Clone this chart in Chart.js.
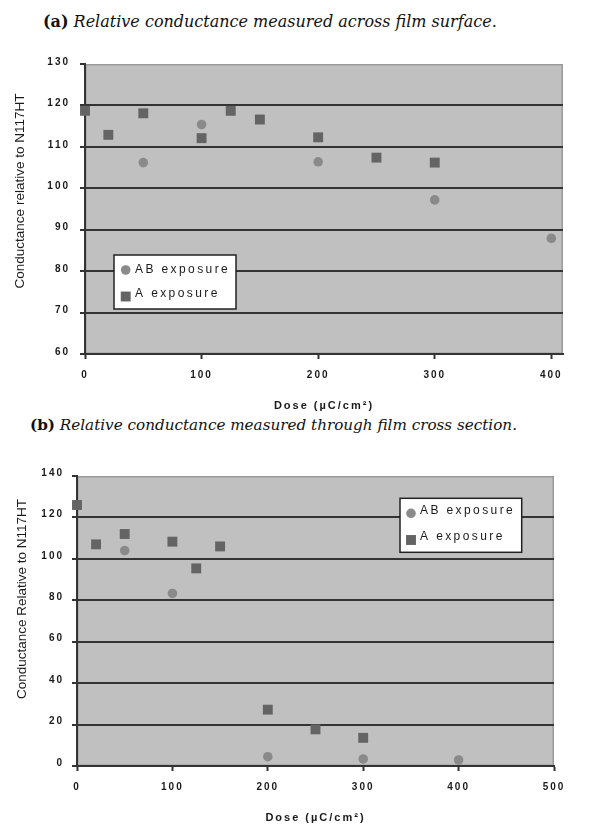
<!DOCTYPE html>
<html><head><meta charset="utf-8">
<script src="https://cdn.jsdelivr.net/npm/chart.js@4.4.1/dist/chart.umd.min.js"></script>
<style>
html,body{margin:0;padding:0;background:#fff;width:616px;height:825px;overflow:hidden;position:relative}
.ttl{position:absolute;font-family:"DejaVu Serif",serif;font-style:italic;white-space:nowrap;color:#111;line-height:20px}
.ttl b{font-style:normal}
.wrap{position:absolute;left:0;width:616px;height:380px}
</style></head><body>
<div class="ttl" id="ta" style="left:43px;top:12px;font-size:16px"><b>(a)</b> Relative conductance measured across film surface.</div>
<div class="ttl" id="tb" style="left:30px;top:415px;font-size:15.2px"><b>(b)</b> Relative conductance measured through film cross section.</div>
<div class="wrap" style="top:40px"><canvas id="ca" width="616" height="380"></canvas></div>
<div class="wrap" style="top:445px"><canvas id="cb" width="616" height="380"></canvas></div>
<script>
// ---------- data ----------
const seriesLabels = ['AB exposure', 'A exposure'];
const xTitle = 'Dose (\u00B5C/cm\u00B2)';
// (a) across film surface
const doseA_AB = [50, 100, 200, 300, 400];
const condA_AB = [106.2, 115.4, 106.4, 97.2, 87.9];
const doseA_A  = [0, 20, 50, 100, 125, 150, 200, 250, 300];
const condA_A  = [118.7, 112.9, 118.1, 112.1, 118.7, 116.6, 112.3, 107.4, 106.2];
const xTicksA  = [0, 100, 200, 300, 400];
const yTicksA  = [60, 70, 80, 90, 100, 110, 120, 130];
// (b) through film cross section
const doseB_AB = [50, 100, 200, 300, 400];
const condB_AB = [104, 83.3, 4.5, 3.4, 2.9];
const doseB_A  = [0, 20, 50, 100, 125, 150, 200, 250, 300];
const condB_A  = [126, 107, 112, 108.3, 95.4, 106, 27.2, 17.7, 13.6];
const xTicksB  = [0, 100, 200, 300, 400, 500];
const yTicksB  = [0, 20, 40, 60, 80, 100, 120, 140];

const FONT = '"Liberation Sans", Arial, sans-serif';
const pts = (xs, ys) => xs.map((x, i) => ({x, y: ys[i]}));

const decor = {
  id: 'decor',
  beforeLayout(chart) { chart.ctx.letterSpacing = '2px'; },
  beforeDraw(chart, args, o) {
    const {ctx, chartArea: a} = chart;
    ctx.save();
    ctx.fillStyle = '#c0c0c0';
    ctx.fillRect(a.left, a.top, a.width, a.height);
    ctx.strokeStyle = '#9a9a9a'; ctx.lineWidth = 1.5;
    ctx.strokeRect(a.left + 0.75, a.top + 0.75, a.width - 1.5, a.height - 1.5);
    ctx.restore();
    ctx.letterSpacing = '2px';
  },
  afterDraw(chart, args, o) {
    const ctx = chart.ctx;
    // y title
    ctx.save();
    ctx.letterSpacing = '0px';
    ctx.translate(o.yTitle.x, o.yTitle.y);
    ctx.rotate(-Math.PI / 2);
    ctx.font = '13.5px ' + FONT;
    ctx.fillStyle = '#1a1a1a'; ctx.textAlign = 'center'; ctx.textBaseline = 'middle';
    ctx.fillText(o.yTitle.text, 0, 0);
    ctx.restore();
    // legend box
    const L = o.legend;
    ctx.save();
    ctx.fillStyle = '#fff';
    ctx.fillRect(L.box[0], L.box[1], L.box[2] - L.box[0], L.box[3] - L.box[1]);
    ctx.strokeStyle = '#222'; ctx.lineWidth = 1.5;
    ctx.strokeRect(L.box[0], L.box[1], L.box[2] - L.box[0], L.box[3] - L.box[1]);
    ctx.font = '12px ' + FONT;
    ctx.letterSpacing = '2.4px';
    ctx.textAlign = 'left'; ctx.textBaseline = 'middle';
    chart.data.datasets.forEach((ds, i) => {
      ctx.fillStyle = ds.backgroundColor;
      Chart.helpers.drawPoint(ctx, {pointStyle: ds.pointStyle, radius: ds.pointRadius, borderWidth: 0, rotation: 0}, L.markerX, L.markerY[i]);
      ctx.fillStyle = '#1a1a1a';
      ctx.fillText(ds.label, L.textX, L.textY[i]);
    });
    ctx.restore();
  }
};

function makeChart(id, cfg) {
  const fixTicks = (vals) => (scale) => { scale.ticks = vals.map(v => ({value: v})); };
  return new Chart(document.getElementById(id), {
    type: 'scatter',
    data: {
      datasets: [
        {label: seriesLabels[0], data: pts(cfg.xAB, cfg.yAB), pointStyle: 'circle', pointRadius: 4.8, pointHoverRadius: 4.8,
         backgroundColor: '#8a8a8a', borderWidth: 0, clip: false},
        {label: seriesLabels[1], data: pts(cfg.xA, cfg.yA), pointStyle: 'rect', pointRadius: 7, pointHoverRadius: 7,
         backgroundColor: '#646464', borderWidth: 0, clip: false}
      ]
    },
    options: {
      responsive: false, animation: false, devicePixelRatio: 1,
      layout: {padding: {top: cfg.padTop, right: cfg.padRight, left: 0, bottom: 0}},
      plugins: {
        legend: {display: false}, tooltip: {enabled: false},
        decor: {yTitle: cfg.yTitle, legend: cfg.legend}
      },
      scales: {
        x: {
          type: 'linear', min: cfg.xMin, max: cfg.xMax,
          afterBuildTicks: fixTicks(cfg.xTicks),
          afterFit: (s) => { s.height = cfg.xH; },
          grid: {display: true, drawOnChartArea: false, drawTicks: true, tickLength: 5, tickColor: '#333', tickWidth: 2},
          border: {display: true, color: '#333', width: 2},
          ticks: {color: '#1a1a1a', font: {family: FONT, size: 10, weight: 'bold'}, padding: 10, maxRotation: 0},
          title: {display: true, text: xTitle, color: '#1a1a1a', font: {family: FONT, size: 11, weight: 'bold'},
                  padding: {top: 0, bottom: cfg.xTitlePad}}
        },
        y: {
          type: 'linear', min: cfg.yMin, max: cfg.yMax,
          afterBuildTicks: fixTicks(cfg.yTicks),
          afterFit: (s) => { s.width = cfg.yW; },
          grid: {display: true, drawOnChartArea: true, drawTicks: true, tickLength: 5, tickColor: '#333', tickWidth: 2,
                 lineWidth: 2, color: (c) => (c.tick && c.tick.value === cfg.yMax) ? 'rgba(0,0,0,0)' : '#333'},
          border: {display: true, color: '#333', width: 2},
          ticks: {color: '#1a1a1a', font: {family: FONT, size: 10, weight: 'bold'}, padding: cfg.yTickPad, labelOffset: cfg.yLabelOffset}
        }
      }
    },
    plugins: [decor]
  });
}

makeChart('ca', {
  xAB: doseA_AB, yAB: condA_AB, xA: doseA_A, yA: condA_A,
  xMin: 0, xMax: 410, xTicks: xTicksA, yMin: 60, yMax: 130, yTicks: yTicksA,
  padTop: 24, padRight: 53, xH: 66, yW: 85, yTickPad: 10, yLabelOffset: -2, xTitlePad: 7.4,
  yTitle: {text: 'Conductance relative to N117HT', x: 20, y: 151},
  legend: {box: [114, 215, 236, 269], markerX: 125.7, markerY: [230, 256.5], textX: 135, textY: [230, 254]}
});
makeChart('cb', {
  xAB: doseB_AB, yAB: condB_AB, xA: doseB_A, yA: condB_A,
  xMin: 0, xMax: 500, xTicks: xTicksB, yMin: 0, yMax: 140, yTicks: yTicksB,
  padTop: 31, padRight: 62, xH: 59, yW: 77, yTickPad: 8, yLabelOffset: -3, xTitlePad: 0.4,
  yTitle: {text: 'Conductance Relative to N117HT', x: 22.5, y: 154},
  legend: {box: [400, 53.3, 521.7, 107.3], markerX: 411, markerY: [68.3, 95], textX: 420, textY: [65.7, 92]}
});
</script>
</body></html>
